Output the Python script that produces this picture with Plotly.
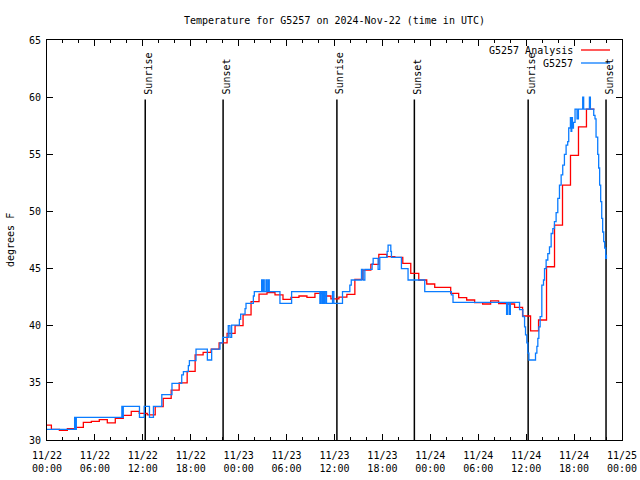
import plotly.graph_objects as go
import pandas as pd

BASE = pd.Timestamp("2024-11-22 00:00")

# ---- G5257 Analysis (hourly values, valid from ~:33 past each hour) ----
analysis_offset_h = 0.55
analysis_temp = [31.3, 30.93, 30.85, 30.99, 31.11, 31.55, 31.63, 31.78, 31.49, 31.9,
                 32.16, 32.5, 32.33, 32.19, 32.92, 33.65, 34.37, 35.0, 36.0, 37.44,
                 37.67, 37.96, 38.5, 39.33, 40.0, 40.94, 42.1, 42.77, 42.89, 42.7,
                 42.31, 42.48, 42.6, 42.48, 42.83, 42.6, 42.35, 42.5, 42.75, 44.06,
                 44.87, 45.37, 46.24, 46.04, 45.98, 45.46, 44.58, 44.0, 43.65, 43.36,
                 43.36, 42.83, 42.45, 42.25, 42.02, 41.9, 42.17, 41.93, 41.9, 41.6,
                 40.85, 39.54, 40.5, 45.16, 48.8, 52.3, 54.9, 57.4, 58.96, 58.96]
analysis_hours = [0.0] + [k - 1 + analysis_offset_h for k in range(1, len(analysis_temp))]

# ---- G5257 observations (hours since 11/22 00:00 UTC, deg F) ----
obs_hours = [0.0, 3.46, 3.54, 3.67, 9.375, 9.45, 9.55, 11.58, 12.17, 12.83,
             13.33, 14.375, 15.65, 16.87, 17.08, 17.7, 17.83, 18.66, 20.08, 20.62,
             21.66, 21.99, 22.7, 22.91, 23.12, 24.09, 24.25, 24.8, 24.92, 25.84,
             25.96, 26.88, 26.96, 27.08, 27.2, 27.42, 27.54, 27.71, 27.83, 29.17,
             30.63, 34.17, 34.29, 34.46, 34.58, 34.71, 34.83, 35.0, 35.75, 35.92,
             37.0, 37.92, 38.1, 39.38, 39.58, 39.8, 40.71, 40.84, 41.46, 41.67,
             42.59, 42.71, 43.05, 43.13, 44.38, 45.21, 47.3, 50.63, 50.84, 57.55,
             57.68, 57.9, 58.02, 59.17, 59.59, 59.8, 59.92, 60.08, 60.21, 60.34,
             61.17, 61.34, 61.46, 61.59, 61.75, 61.96, 62.17, 62.3, 62.5, 62.71,
             62.92, 63.13, 63.34, 63.54, 63.75, 63.96, 64.17, 64.38, 64.58, 64.79,
             65.0, 65.2, 65.33, 65.54, 65.62, 65.71, 65.79, 65.92, 66.12, 66.37,
             66.54, 67.08, 67.2, 67.92, 68.04, 68.46, 68.62, 68.75, 68.96, 69.08,
             69.2, 69.33, 69.46, 69.58, 69.71, 69.83, 69.96, 70.05]
obs_temp = [30.93, 31.98, 30.93, 31.98, 32.95, 31.98, 32.95, 31.98, 32.95, 31.98,
            32.95, 33.97, 34.96, 35.69, 35.98, 36.5, 36.94, 37.96, 37.0, 37.96,
            38.5, 38.98, 40.0, 38.98, 40.06, 40.55, 41.02, 41.5, 41.96, 42.6,
            42.98, 44.0, 42.98, 44.0, 42.98, 44.0, 42.98, 44.0, 42.98, 41.96,
            42.98, 41.96, 42.98, 41.96, 42.98, 41.96, 42.98, 41.96, 42.98, 41.96,
            42.98, 43.56, 44.0, 44.93, 44.0, 44.93, 45.4, 45.9, 44.93, 45.98,
            46.5, 47.06, 46.5, 45.98, 44.99, 44.0, 42.98, 42.7, 42.04, 41.0,
            42.04, 41.0, 42.04, 41.4, 40.79, 39.9, 39.2, 38.5, 37.6, 37.0,
            37.6, 38.2, 38.9, 39.9, 40.8, 43.56, 44.0, 45.0, 45.75, 46.3,
            46.9, 48.07, 48.5, 49.1, 49.9, 51.14, 52.3, 53.2, 54.06, 55.0,
            55.8, 56.1, 57.3, 58.2, 57.0, 58.2, 57.3, 57.8, 58.95, 58.1,
            58.95, 60.0, 58.95, 60.0, 58.95, 58.4, 58.1, 56.5, 55.0, 53.8,
            52.3, 50.85, 49.4, 48.2, 47.35, 46.8, 45.9, 46.2]

# ---- Sun events (hours since 11/22 00:00 UTC) ----
sun_hours = [12.3, 22.05, 36.3, 46.0, 60.25, 70.0]
sun_labels = ["Sunrise", "Sunset", "Sunrise", "Sunset", "Sunrise", "Sunset"]
sun_line_top = 59.8

# ---- Axis ticks ----
tick_hours = [0, 6, 12, 18, 24, 30, 36, 42, 48, 54, 60, 66, 72]
tick_labels = ["11/22<br>00:00", "11/22<br>06:00", "11/22<br>12:00", "11/22<br>18:00",
               "11/23<br>00:00", "11/23<br>06:00", "11/23<br>12:00", "11/23<br>18:00",
               "11/24<br>00:00", "11/24<br>06:00", "11/24<br>12:00", "11/24<br>18:00",
               "11/25<br>00:00"]
y_ticks = [30, 35, 40, 45, 50, 55, 60, 65]


def to_time(hours):
    return [BASE + pd.Timedelta(hours=h) for h in hours]


FONT = "DejaVu Sans Mono"
RED = "#ff0000"
BLUE = "#0a7cff"
LW = 1.3

W, H = 640, 480
# plot area in window pixels
L, R_, T_, B_ = 47, 622, 40, 440

fig = go.Figure()

# sun lines
sx, sy = [], []
for h in sun_hours:
    t = BASE + pd.Timedelta(hours=h)
    sx += [t, t, None]
    sy += [30, sun_line_top, None]
fig.add_trace(go.Scatter(x=sx, y=sy, mode="lines", line=dict(color="black", width=1.5),
                         hoverinfo="skip", showlegend=False))

fig.add_trace(go.Scatter(x=to_time(analysis_hours), y=analysis_temp, mode="lines",
                         line=dict(color=RED, width=LW, shape="hv"),
                         name="G5257 Analysis", showlegend=False))
fig.add_trace(go.Scatter(x=to_time(obs_hours), y=obs_temp, mode="lines",
                         line=dict(color=BLUE, width=LW, shape="hv"),
                         name="G5257", showlegend=False))

annotations = []
for h, lab in zip(sun_hours, sun_labels):
    annotations.append(dict(x=BASE + pd.Timedelta(hours=h), y=sun_line_top, xref="x", yref="y",
                            text=lab, textangle=-90, showarrow=False,
                            xanchor="center", yanchor="bottom", xshift=3, yshift=3,
                            font=dict(family=FONT, size=10, color="black")))


def px(xp):
    return (xp - L) / (R_ - L)


def py(yp):
    return (B_ - yp) / (B_ - T_)


legend_items = [("G5257 Analysis", RED, 50), ("G5257", BLUE, 63)]
shapes = []
for text, col, ypix in legend_items:
    annotations.append(dict(x=px(575), y=py(ypix), xref="paper", yref="paper", text=text,
                            showarrow=False, xanchor="right", yanchor="middle",
                            font=dict(family=FONT, size=10, color="black")))
    shapes.append(dict(type="line", xref="paper", yref="paper", x0=px(581), x1=px(610),
                       y0=py(ypix), y1=py(ypix), line=dict(color=col, width=LW)))

annotations.append(dict(x=px(10), y=0.5, xref="paper", yref="paper", text="degrees F",
                        textangle=-90, showarrow=False, xanchor="center", yanchor="middle",
                        font=dict(family=FONT, size=10, color="black")))

fig.update_layout(
    width=W, height=H,
    margin=dict(l=L, r=W - R_, t=T_, b=H - B_, pad=0, autoexpand=False),
    paper_bgcolor="white", plot_bgcolor="white",
    font=dict(family=FONT, size=10, color="black"),
    title=dict(text="Temperature for G5257 on 2024-Nov-22 (time in UTC)",
               x=0.5, xref="paper", xanchor="center", y=1 - 20 / H, yref="container",
               yanchor="middle", font=dict(family=FONT, size=10, color="black")),
    annotations=annotations, shapes=shapes,
    showlegend=False, hovermode=False,
)

fig.update_xaxes(
    type="date", range=[BASE, BASE + pd.Timedelta(hours=72)], automargin=False,
    tickmode="array", tickvals=to_time(tick_hours), ticktext=tick_labels,
    ticks="inside", ticklen=6, tickwidth=1, tickcolor="black",
    minor=dict(tickmode="linear", tick0=BASE, dtick=2 * 3600 * 1000, ticks="inside",
               ticklen=3, tickcolor="black", showgrid=False),
    showline=True, linecolor="black", linewidth=1, mirror="ticks",
    showgrid=False, zeroline=False, ticklabelstandoff=6,
    tickfont=dict(family=FONT, size=10, color="black"),
)
fig.update_yaxes(
    range=[30, 65], tickmode="array", tickvals=y_ticks, automargin=False,
    ticks="inside", ticklen=6, tickwidth=1, tickcolor="black",
    showline=True, linecolor="black", linewidth=1, mirror="ticks",
    showgrid=False, zeroline=False, ticklabelstandoff=3,
    tickfont=dict(family=FONT, size=10, color="black"),
)

# remove the browser's default 8px body margin so the 640x480 figure fills the window
fig.write_html("out.html", config={"displayModeBar": False, "staticPlot": True},
               post_script="document.body.style.margin='0';document.body.style.overflow='hidden';")
